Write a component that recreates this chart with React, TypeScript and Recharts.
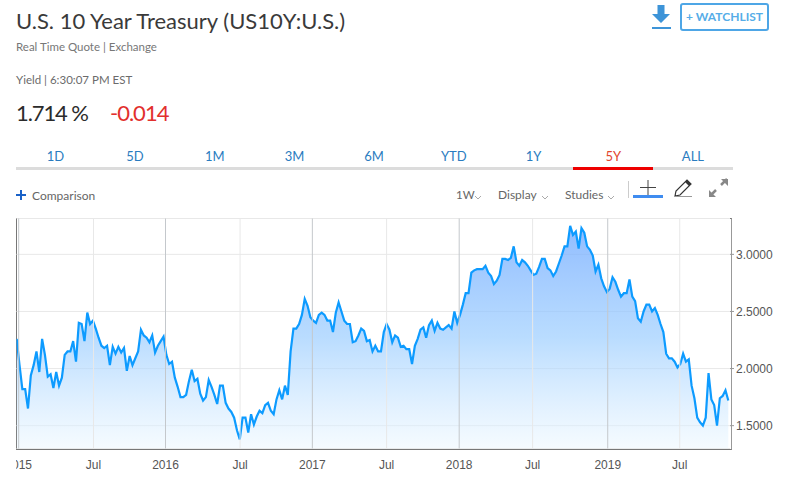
import { Area, AreaChart, CartesianGrid, ReferenceLine, XAxis, YAxis } from 'recharts';

// weekly closing yield
const yields = [
  2.26, 2.03, 1.82, 1.82, 1.65, 1.94, 2.03, 2.15, 1.97, 2.26, 2.12, 1.93, 1.95, 1.83, 1.97, 1.85, 1.92, 2.12, 2.15, 2.15,
  2.24, 2.06, 2.4, 2.39, 2.24, 2.49, 2.39, 2.42, 2.35, 2.27, 2.2, 2.18, 2.2, 2.03, 2.19, 2.13, 2.19, 2.14, 2.18, 1.98,
  2.11, 2.03, 2.09, 2.15, 2.34, 2.29, 2.27, 2.23, 2.29, 2.14, 2.2, 2.24, 2.28, 2.12, 2.04, 2.06, 1.92, 1.84, 1.75, 1.75,
  1.77, 1.89, 1.99, 1.89, 1.91, 1.78, 1.72, 1.75, 1.9, 1.84, 1.77, 1.69, 1.85, 1.85, 1.7, 1.65, 1.62, 1.57, 1.46, 1.38,
  1.57, 1.57, 1.44, 1.6, 1.51, 1.58, 1.63,
  1.61, 1.68, 1.7, 1.63, 1.6, 1.73, 1.81, 1.73, 1.85, 1.77, 2.15, 2.35, 2.35, 2.39, 2.47, 2.61, 2.55, 2.45, 2.42, 2.4,
  2.47, 2.49, 2.47, 2.42, 2.42, 2.32, 2.49, 2.58, 2.5, 2.42, 2.39, 2.39, 2.23, 2.24, 2.29, 2.35, 2.33, 2.24, 2.25, 2.15,
  2.2, 2.15, 2.15, 2.32, 2.39, 2.34, 2.23, 2.29, 2.27, 2.19, 2.2, 2.17, 2.17, 2.04, 2.2, 2.26, 2.34, 2.36, 2.27, 2.38,
  2.42, 2.33, 2.4, 2.35, 2.34, 2.36, 2.38, 2.35, 2.5, 2.4, 2.47, 2.56, 2.66, 2.66, 2.84, 2.86, 2.87, 2.87, 2.87, 2.9,
  2.84, 2.81, 2.74, 2.77, 2.82, 2.96, 2.96, 2.95,
  2.97, 3.07, 2.93, 2.9, 2.95, 2.93, 2.9, 2.86, 2.82, 2.83, 2.89, 2.96, 2.96, 2.88, 2.86, 2.81, 2.85, 2.92, 2.99, 3.07,
  3.07, 3.25, 3.17, 3.2, 3.05, 3.23, 3.19, 3.07, 3.04, 2.99, 2.85, 2.91, 2.79, 2.72, 2.67, 2.7, 2.8, 2.76, 2.69, 2.63,
  2.66, 2.66, 2.78, 2.63, 2.59, 2.44, 2.41, 2.5, 2.56, 2.56, 2.5, 2.53, 2.47, 2.39, 2.32, 2.13, 2.09, 2.09, 2.06, 2.01,
  2.04, 2.13, 2.06, 2.08, 1.85, 1.74, 1.57, 1.53, 1.5, 1.57, 1.96, 1.73, 1.68, 1.5, 1.74, 1.76, 1.81, 1.72,
];

const yTicks = [1.5, 2, 2.5, 3];
const yearTicks = [0.7, 52.7, 104.7, 156.7, 209.3];
const yearLabels = ['2015', '2016', '2017', '2018', '2019'];
const julyTicks = [27.2, 79.1, 131, 182.7, 234.8];
const ranges = ['1D', '5D', '1M', '3M', '6M', 'YTD', '1Y', '5Y', 'ALL'];
const activeRange = '5Y';

const chartData = yields.map((y, i) => ({ week: i, y }));
const xTicks = [...yearTicks, ...julyTicks].sort((a, b) => a - b);

const headerFont = 'Lato, "Open Sans", sans-serif';
const axisFont = '"Liberation Sans", Arial, sans-serif';

function tickLabel(v: number) {
  const i = yearTicks.indexOf(v);
  return i >= 0 ? yearLabels[i] : 'Jul';
}

function Txt({ x, y, size, color, children, weight = 400, w, spacing }: any) {
  return (
    <div
      style={{
        position: 'absolute',
        left: x,
        top: y,
        fontSize: size,
        color,
        fontWeight: weight,
        lineHeight: '20px',
        whiteSpace: 'nowrap',
        width: w,
        letterSpacing: spacing,
        textAlign: w ? 'center' : 'left',
        fontFamily: headerFont,
      }}
    >
      {children}
    </div>
  );
}

function Chevron({ x }: { x: number }) {
  return (
    <svg style={{ position: 'absolute', left: x, top: 195 }} width={8} height={6}>
      <path d="M1 1 L4 4 L7 1" fill="none" stroke="#aaa" strokeWidth={1} />
    </svg>
  );
}

export default function App() {
  return (
    <div style={{ position: 'absolute', left: 0, top: 0, width: 785, height: 479, background: '#fff', overflow: 'hidden' }}>
      <Txt x={16} y={11} size={22} color="#3a3a3a">U.S. 10 Year Treasury (US10Y:U.S.)</Txt>
      <Txt x={16} y={37} size={11.5} color="#777">Real Time Quote | Exchange</Txt>
      <Txt x={16} y={70} size={11.5} color="#6b6b6b">Yield | 6:30:07 PM EST</Txt>
      <Txt x={16} y={103} size={22} color="#2b2b2b" spacing={-1.1}>1.714 %</Txt>
      <Txt x={110} y={103} size={22} color="#e2302d" spacing={-1}>-0.014</Txt>

      {/* download + watchlist */}
      <svg style={{ position: 'absolute', left: 650, top: 3 }} width={24} height={28}>
        <path d="M7.5 2 H14.5 V11 H20 L11 20 L2 11 H7.5 Z" fill="#3d94d8" />
        <rect x={2} y={24} width={19} height={2} fill="#3d94d8" />
      </svg>
      <div
        style={{
          position: 'absolute',
          left: 680,
          top: 3,
          width: 85,
          height: 24,
          border: '2px solid #4ea6e6',
          borderRadius: 3,
          color: '#56ade8',
          fontFamily: headerFont,
          fontSize: 12,
          fontWeight: 700,
          lineHeight: '24px',
          textAlign: 'center',
        }}
      >
        + WATCHLIST
      </div>

      {/* range tabs */}
      {ranges.map((r, i) => (
        <Txt key={r} x={15.5 + i * 79.7} y={146} w={79.7} size={13} color={r === activeRange ? '#e2452d' : '#2a7cc0'}>
          {r}
        </Txt>
      ))}
      <div style={{ position: 'absolute', left: 16, top: 167, width: 717, height: 3, background: '#dcdcdc' }} />
      <div style={{ position: 'absolute', left: 573, top: 167, width: 80, height: 3, background: '#ee0000' }} />

      {/* toolbar */}
      <svg style={{ position: 'absolute', left: 16, top: 190 }} width={11} height={11}>
        <path d="M0 5 H10 M5 0 V10" stroke="#1a62c8" strokeWidth={2} />
      </svg>
      <Txt x={32} y={186} size={12} color="#666">Comparison</Txt>
      <Txt x={456} y={185} size={11.5} color="#666">1W</Txt>
      <Chevron x={474} />
      <Txt x={498} y={185} size={12} color="#666">Display</Txt>
      <Chevron x={541} />
      <Txt x={565} y={185} size={12} color="#666">Studies</Txt>
      <Chevron x={607} />
      <div style={{ position: 'absolute', left: 628, top: 181, width: 1, height: 17, background: '#ccc' }} />
      <svg style={{ position: 'absolute', left: 632, top: 178 }} width={100} height={22}>
        <path d="M8 9.5 H24 M16 2 V17" stroke="#444" strokeWidth={1} fill="none" />
        <rect x={1} y={17} width={30} height={3} fill="#3f8cf0" />
        <path d="M43 18 L44 13 L55 2 L59 6 L48 17 Z" fill="none" stroke="#333" strokeWidth={1.2} />
        <path d="M53 4 L55 2 L59 6 L57 8 Z" fill="#333" />
        <path d="M44 18.5 H60" stroke="#999" strokeWidth={1} />
        <path d="M78 18 L84 12 M89 7 L95 1" stroke="#888" strokeWidth={2.5} />
        <path d="M77 12 V19 H84 Z M89 1 H96 V8 Z" fill="#888" />
      </svg>

      {/* plot frame */}
      <div style={{ position: 'absolute', left: 16, top: 218, width: 714, height: 230, border: '1px solid #777', boxSizing: 'content-box', borderRightColor: '#999' }} />

      <div style={{ position: 'absolute', left: 16, top: 218 }}>
        <AreaChart
          width={769}
          height={261}
          data={chartData}
          margin={{ top: 0.5, right: 0, bottom: 0, left: 0.5 }}
        >
          <defs>
            <linearGradient id="yieldFill" x1="0" y1="0" x2="0" y2="1">
              <stop offset="0%" stopColor="#75acff" stopOpacity={0.8} />
              <stop offset="50%" stopColor="#9bcdff" stopOpacity={0.7} />
              <stop offset="100%" stopColor="#ebf7ff" stopOpacity={0.5} />
            </linearGradient>
          </defs>
          <CartesianGrid vertical={false} stroke="#e8e8e8" />
          <XAxis
            type="number"
            dataKey="week"
            domain={[-0.07, yields.length - 1 + 0.6]}
            allowDataOverflow
            ticks={xTicks}
            interval={0}
            tickFormatter={tickLabel}
            height={30.5}
            axisLine={false}
            tickLine={false}
            tickMargin={6}
            tick={{ fill: '#555', fontSize: 12, fontFamily: axisFont }}
          />
          <YAxis
            orientation="right"
            domain={[1.3, 3.314]}
            allowDataOverflow
            ticks={yTicks}
            width={55}
            axisLine={false}
            tickSize={4}
            tickMargin={2}
            tickLine={{ stroke: '#999' }}
            tickFormatter={(v: number) => v.toFixed(4)}
            tick={{ fill: '#555', fontSize: 12, fontFamily: axisFont }}
          />
          {julyTicks.map((t) => (
            <ReferenceLine key={t} x={t} stroke="#e8e8e8" />
          ))}
          {yearTicks.map((t) => (
            <ReferenceLine key={t} x={t} stroke="#c4c8cc" />
          ))}
          <Area
            type="linear"
            dataKey="y"
            stroke="#0d9bff"
            strokeWidth={2.2}
            fill="url(#yieldFill)"
            fillOpacity={1}
            dot={false}
            activeDot={false}
            isAnimationActive={false}
          />
        </AreaChart>
      </div>
    </div>
  );
}
